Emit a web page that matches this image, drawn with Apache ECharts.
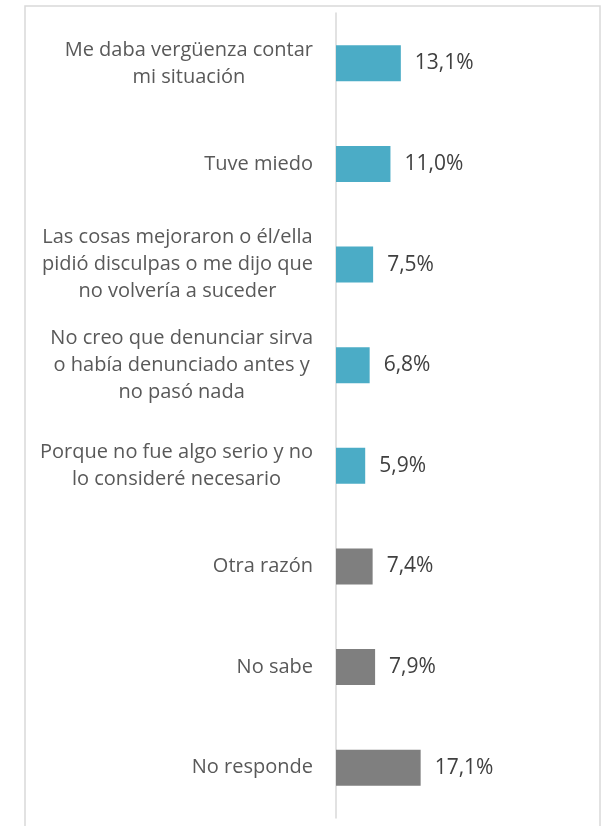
<!DOCTYPE html>
<html>
<head>
<meta charset="utf-8">
<script src="https://cdn.jsdelivr.net/npm/echarts@6/dist/echarts.min.js"></script>
<style>
  html, body { margin: 0; padding: 0; background: #fff; }
  #chart { width: 602px; height: 826px; }
</style>
</head>
<body>
<div id="chart"></div>
<script>
// razones para no denunciar
var categories = [
  "Me daba vergüenza contar\nmi situación",
  "Tuve miedo",
  "Las cosas mejoraron o él/ella\npidió disculpas o me dijo que\nno volvería a suceder",
  "No creo que denunciar sirva\no había denunciado antes y\nno pasó nada",
  "Porque no fue algo serio y no\nlo consideré necesario",
  "Otra razón",
  "No sabe",
  "No responde"
];
var values = [13.1, 11.0, 7.5, 6.8, 5.9, 7.4, 7.9, 17.1];
var groups = ["razon", "razon", "razon", "razon", "razon", "otro", "otro", "otro"];

var FONT = "Open Sans";
var FONT_SIZE = 20;
var colors = { razon: "#4bacc6", otro: "#7f7f7f" };

// ancho de la línea más larga, para centrar las líneas y alinear el bloque a la derecha
var ctx = document.createElement("canvas").getContext("2d");
ctx.font = FONT_SIZE + "px " + FONT;
function blockWidth(s) {
  return Math.max.apply(null, s.split("\n").map(function (l) { return ctx.measureText(l).width; }));
}

var yData = categories.map(function (c) {
  return {
    value: c,
    textStyle: { align: "center", padding: [0, blockWidth(c), 0, 0] }
  };
});

var myChart = echarts.init(document.getElementById("chart"));
myChart.setOption({
  animation: false,
  backgroundColor: "#fff",
  graphic: [{
    type: "rect",
    shape: { x: 25, y: 6, width: 575, height: 840 },
    style: { fill: "none", stroke: "#d9d9d9", lineWidth: 1.5 },
    z: -1
  }],
  grid: { left: 336, right: 167, top: 13, bottom: 8 },
  xAxis: {
    type: "value",
    min: 0,
    max: 20,
    show: false
  },
  yAxis: {
    type: "category",
    inverse: true,
    data: yData,
    axisLine: { show: true, lineStyle: { color: "#d9d9d9", width: 1.5 } },
    axisTick: { show: false },
    axisLabel: {
      margin: 23,
      color: "#595959",
      fontFamily: FONT,
      fontSize: FONT_SIZE,
      lineHeight: 27
    }
  },
  series: [{
    type: "bar",
    barWidth: 36,
    data: values.map(function (v, i) {
      return { value: v, itemStyle: { color: colors[groups[i]] } };
    }),
    label: {
      show: true,
      position: "right",
      distance: 14,
      color: "#404040",
      fontFamily: FONT,
      fontSize: 21,
      formatter: function (p) { return p.value.toFixed(1).replace(".", ",") + "%"; }
    }
  }]
});
</script>
</body>
</html>
